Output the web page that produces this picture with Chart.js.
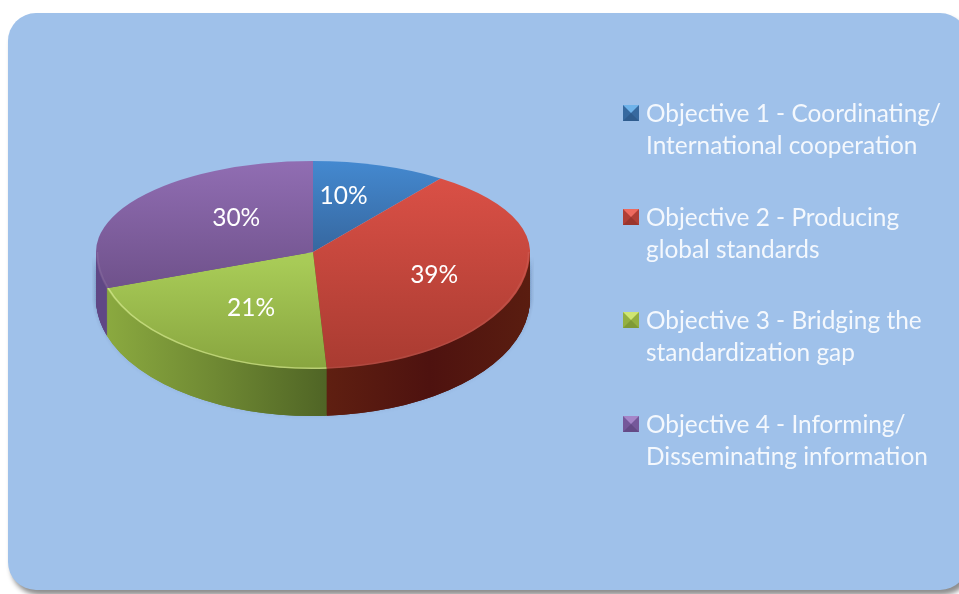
<!DOCTYPE html>
<html>
<head>
<meta charset="utf-8">
<title>Objectives</title>
<script src="https://cdn.jsdelivr.net/npm/chart.js@4"></script>
<style>
    html, body { margin:0; padding:0; background:#fff; overflow:hidden; width:959px; height:594px; }
    #panel {
        position:absolute; left:8px; top:13px; width:960px; height:577px;
        background:#9fc1ea; border-radius:28px; box-shadow:3px 5px 5px #8f8f8f;
    }
    #myChart { position:absolute; left:0; top:0; }
    #legend { position:absolute; left:0; top:0; font-family:Lato, sans-serif; font-size:24.4px; line-height:32px; color:#f4f8fd; }
    .item { position:absolute; left:646px; white-space:nowrap; }
    .box { position:absolute; left:-23px; top:8px; width:0; height:0; border-style:solid; border-width:8px; }
</style>
</head>
<body>
<div id="panel"></div>
<canvas id="myChart" width="959" height="594"></canvas>
<div id="legend"></div>
<script>
// chart data
const categories = [
    ['Objective 1 - Coordinating/', 'International cooperation'],
    ['Objective 2 - Producing', 'global standards'],
    ['Objective 3 - Bridging the', 'standardization gap'],
    ['Objective 4 - Informing/', 'Disseminating information'],
]
const shares = [10, 39, 21, 30]
const percentLabels = ['10%', '39%', '21%', '30%']

// top face: colour at the upper and lower end of the slice, with the screen y range
const topColors = [
    ['#4489d0', '#36679f', 161, 252],
    ['#da5046', '#a93b31', 178, 369],
    ['#a8cb57', '#88a53f', 262, 369],
    ['#906db2', '#70528c', 163, 285],
]
// side wall: colours left to right, with the screen x range
const sideColors = [
    null,
    ['#5f1f11', '#4e120f', '#5a1d10', 328, 530],
    ['#8cab40', '#6f8933', '#4f6425', 101, 328],
    ['#5f4785', '#5f4785', '#5f4785', 96, 103],
]
const rimColors = ['rgba(255,255,255,0.08)', 'rgba(255,255,255,0.07)', 'rgba(235,250,170,0.5)', 'rgba(255,255,255,0.08)']
// legend boxes: top bevel, sides and bottom
const legendBoxes = [
    ['#6fb3ea', '#37699f', '#2f5c8e'],
    ['#ee6a5e', '#b03f36', '#9a352d'],
    ['#cfe673', '#94b041', '#7f9a36'],
    ['#a585c8', '#75589a', '#644a86'],
]

// pie look: the circle is squashed differently above and below the centre
const squashUp = 91 / 217
const squashDown = 117 / 217
const depth = 47
const labelShift = [[-3, -13], [17, 7], [-1, 7.5], [11, -7]]

// draw one arc element clipped to one half of the pie, squashed and moved down
function drawHalf(ctx, arc, lower, shiftY, fill) {
    const sy = lower ? squashDown : squashUp
    ctx.save()
    ctx.beginPath()
    if (lower) {
        ctx.rect(0, arc.y + shiftY, 959, 594)
    } else {
        ctx.rect(0, 0, 959, arc.y + shiftY)
    }
    ctx.clip()
    ctx.translate(arc.x, arc.y + shiftY)
    ctx.scale(1, sy)
    ctx.translate(-arc.x, -arc.y)
    const a = Object.create(arc)
    a.options = Object.assign({}, arc.options, {backgroundColor: fill(sy)})
    a.draw(ctx)
    ctx.restore()
}

const pie3d = {
    id: 'pie3d',
    // replaces the flat drawing of the arcs
    beforeDatasetsDraw(chart) {
        const ctx = chart.ctx
        const arcs = chart.getDatasetMeta(0).data

        const sideFill = (c) => () => {
            const g = ctx.createLinearGradient(c[3], 0, c[4], 0)
            g.addColorStop(0, c[0])
            g.addColorStop(0.5, c[1])
            g.addColorStop(1, c[2])
            return g
        }

        // soft shadow round the wall, built up from many faint layers
        ctx.save()
        ctx.shadowColor = 'rgba(30,50,80,0.035)'
        ctx.shadowBlur = 5
        for (let k = depth; k > 4; k--) {
            arcs.forEach((arc, i) => {
                if (sideColors[i]) drawHalf(ctx, arc, true, k, sideFill(sideColors[i]))
            })
        }
        ctx.restore()

        // side wall, from the bottom up
        for (let k = depth; k > 0; k--) {
            arcs.forEach((arc, i) => {
                if (sideColors[i]) drawHalf(ctx, arc, true, k, sideFill(sideColors[i]))
            })
        }

        // top face
        arcs.forEach((arc, i) => {
            const c = topColors[i]
            const fill = (sy) => {
                const g = ctx.createLinearGradient(0, arc.y + (c[2] - arc.y) / sy, 0, arc.y + (c[3] - arc.y) / sy)
                g.addColorStop(0, c[0])
                g.addColorStop(1, c[1])
                return g
            }
            drawHalf(ctx, arc, false, 0, fill)
            drawHalf(ctx, arc, true, 0, fill)

            // thin light bevel along the rim of the lower half
            ctx.save()
            ctx.beginPath()
            ctx.rect(0, arc.y, 959, 594)
            ctx.clip()
            ctx.strokeStyle = rimColors[i]
            ctx.lineWidth = 1.5
            ctx.beginPath()
            ctx.ellipse(arc.x, arc.y, arc.outerRadius - 1.5, (arc.outerRadius - 1.5) * squashDown, 0, arc.startAngle, arc.endAngle)
            ctx.stroke()
            ctx.restore()
        })

        // percent labels
        ctx.save()
        ctx.fillStyle = '#ffffff'
        ctx.font = '24.5px Lato, sans-serif'
        ctx.textAlign = 'center'
        ctx.textBaseline = 'middle'
        arcs.forEach((arc, i) => {
            const mid = (arc.startAngle + arc.endAngle) / 2
            const r = arc.outerRadius * 0.5
            const sy = Math.sin(mid) > 0 ? squashDown : squashUp
            const x = arc.x + r * Math.cos(mid) + labelShift[i][0]
            const y = arc.y + r * Math.sin(mid) * sy + labelShift[i][1]
            ctx.fillText(percentLabels[i], x, y)
        })
        ctx.restore()
        return false
    }
}

new Chart(document.getElementById('myChart').getContext('2d'), {
    type: 'pie',
    data: {
        labels: categories.map((c) => c.join(' ')),
        datasets: [{
            data: shares,
            backgroundColor: topColors.map((c) => c[0]),
            borderWidth: 0
        }]
    },
    options: {
        responsive: false,
        animation: false,
        // leaves a 434px square for the pie, centre at 313,252
        layout: {padding: {left: 96, right: 429, top: 35, bottom: 125}},
        plugins: {
            legend: {display: false},
            tooltip: {enabled: false}
        }
    },
    plugins: [pie3d]
})

// legend next to the chart
const legendTops = [97, 201, 304, 408]
const legend = document.getElementById('legend')
categories.forEach((lines, i) => {
    const item = document.createElement('div')
    item.className = 'item'
    item.style.top = legendTops[i] + 'px'
    item.innerHTML = lines.join('<br>')
    const box = document.createElement('span')
    box.className = 'box'
    const c = legendBoxes[i]
    box.style.borderColor = c[0] + ' ' + c[1] + ' ' + c[2] + ' ' + c[1]
    item.appendChild(box)
    legend.appendChild(item)
})
</script>
</body>
</html>
